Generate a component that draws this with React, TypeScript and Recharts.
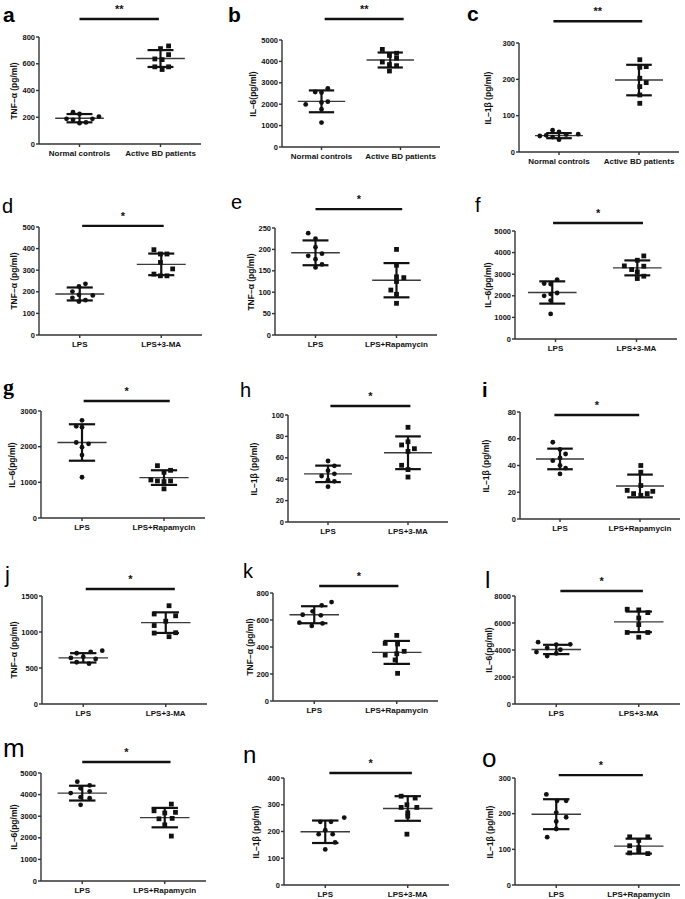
import React from "react";
import { ScatterChart, Scatter, XAxis, YAxis, ReferenceLine } from "recharts";

type Pt = [number, number];
type Stat = [number, number, number]; // x centre, mean, sd

const FONT = "'Liberation Sans', Arial, Helvetica, sans-serif";
const INK = "#111";

// category names
const normalGroups = ["Normal controls", "Active BD patients"];
const maGroups = ["LPS", "LPS+3-MA"];
const rapaGroups = ["LPS", "LPS+Rapamycin"];

// y tick labels
const ticks800 = [0, 200, 400, 600, 800];
const ticks5000 = [0, 1000, 2000, 3000, 4000, 5000];
const ticks300 = [0, 100, 200, 300];
const ticks500 = [0, 100, 200, 300, 400, 500];
const ticks250 = [0, 50, 100, 150, 200, 250];
const ticks3000 = [0, 1000, 2000, 3000];
const ticks100 = [0, 20, 40, 60, 80, 100];
const ticks80 = [0, 20, 40, 60, 80];
const ticks1500 = [0, 500, 1000, 1500];
const ticks8000 = [0, 2000, 4000, 6000, 8000];
const ticks400 = [0, 100, 200, 300, 400];

// points as [x (group + jitter), value]
const aCtrl: Pt[] = [[0.92, 238], [1, 225], [1.24, 205], [0.84, 188], [0.92, 181], [1.16, 188], [1, 156], [1.08, 161]];
const aBD: Pt[] = [[2.1, 733], [2, 713], [2.1, 668], [1.93, 636], [2.02, 631], [1.93, 577], [2.1, 577], [2.02, 557]];
const aStats: Stat[] = [[1, 193, 31], [2, 639, 63]];

const bCtrl: Pt[] = [[1.08, 2740], [0.92, 2570], [1, 2545], [1.08, 2120], [1, 2080], [0.8, 1990], [1, 1765], [1, 1140]];
const bBD: Pt[] = [[1.77, 4560], [1.95, 4380], [1.86, 4280], [1.95, 4150], [1.77, 3970], [1.86, 3850], [1.95, 3800], [1.86, 3550]];
const bStats: Stat[] = [[1, 2134, 510], [1.87, 4065, 350]];

const cCtrl: Pt[] = [[0.92, 60], [1, 55], [1.09, 48], [0.84, 46], [1.24, 49], [0.76, 44], [0.92, 41], [1, 34]];
const cBD: Pt[] = [[2.01, 254], [2.01, 233], [2.09, 235], [2.01, 203], [2.09, 191], [2.01, 180], [2.01, 157], [2.01, 134]];
const cStats: Stat[] = [[1, 45, 7], [2, 198, 42]];

const dLps: Pt[] = [[1.07, 237], [0.99, 225], [0.91, 201], [1.16, 183], [0.99, 186], [0.91, 172], [0.99, 155], [1.07, 161]];
const dMa: Pt[] = [[1.91, 395], [1.99, 375], [2.07, 375], [1.99, 336], [2.14, 306], [1.91, 282], [1.99, 274], [2.07, 274]];
const dStats: Stat[] = [[1, 190, 30], [2, 327, 50]];

const eLps: Pt[] = [[0.91, 238], [1, 225], [1, 205], [0.91, 185], [1.08, 190], [1, 177], [1, 158], [1.08, 165]];
const eRapa: Pt[] = [[2, 200], [2, 163], [2, 136], [2.09, 134], [1.93, 105], [2, 95], [2, 74], [2, 125]];
const eStats: Stat[] = [[1, 192, 29], [2, 128, 40]];

const fLps: Pt[] = [[1.02, 2750], [0.86, 2570], [0.94, 2545], [1.02, 2130], [0.94, 2080], [0.86, 2000], [0.94, 1780], [0.94, 1160]];
const fMa: Pt[] = [[2.09, 3846], [2.01, 3646], [1.85, 3385], [2.09, 3370], [1.94, 3215], [2.01, 3108], [2.09, 2908], [2.01, 2800]];
const fStats: Stat[] = [[0.96, 2154, 515], [2.01, 3292, 346]];

const gLps: Pt[] = [[1, 2739], [0.93, 2572], [1, 2544], [0.93, 2117], [1.08, 2080], [1, 1987], [1, 1764], [1, 1142]];
const gRapa: Pt[] = [[1.92, 1467], [2.08, 1337], [2, 1281], [1.84, 1067], [1.92, 1040], [2, 1021], [2.08, 1040], [2, 817]];
const gStats: Stat[] = [[1, 2117, 511], [2, 1133, 205]];

const hLps: Pt[] = [[1, 57], [1.08, 52.5], [1, 48], [1.08, 45], [0.92, 43], [1, 39], [1.08, 38], [1, 33]];
const hMa: Pt[] = [[2, 88.5], [2, 75], [1.92, 72], [2.08, 68.5], [2, 66], [1.92, 53], [2, 49], [2, 42]];
const hStats: Stat[] = [[1, 45, 7.7], [2, 64.7, 15.3]];

const iLps: Pt[] = [[0.91, 57.4], [1, 52], [1.07, 48.6], [0.91, 43.6], [1, 45.6], [1, 40], [1.07, 38], [1, 33.7]];
const iRapa: Pt[] = [[2.01, 40], [2.01, 35], [2.01, 25], [1.84, 21.4], [1.92, 19], [2.09, 19], [2.16, 20.7], [2.01, 17.7]];
const iStats: Stat[] = [[1, 44.9, 7.7], [2, 24.7, 8.5]];

const jLps: Pt[] = [[0.92, 705], [1.09, 725], [1.23, 740], [0.85, 640], [1, 655], [1.15, 625], [0.92, 580], [1.07, 560]];
const jMa: Pt[] = [[2.04, 1365], [1.86, 1250], [2.12, 1225], [2, 1150], [1.86, 1090], [2.12, 990], [1.86, 985], [2.04, 935]];
const jStats: Stat[] = [[1, 641, 65], [2, 1130, 143]];

const kLps: Pt[] = [[1.21, 733], [1.09, 709], [0.98, 664], [0.86, 639], [1.08, 635], [0.82, 580], [1.1, 575], [0.97, 556]];
const kRapa: Pt[] = [[2, 486], [1.86, 427], [2.01, 422], [2.09, 368], [2, 350], [1.86, 340], [1.98, 304], [2.01, 205]];
const kStats: Stat[] = [[1, 639, 63], [2, 360, 85]];

const lLps: Pt[] = [[0.78, 4580], [1, 4400], [1.17, 4420], [0.89, 4150], [1.05, 4020], [0.76, 3850], [1, 3750], [0.89, 3550]];
const lMa: Pt[] = [[1.86, 7020], [2, 6970], [2.11, 6770], [2, 6370], [2, 5880], [1.86, 5300], [2.11, 5300], [2, 4950]];
const lStats: Stat[] = [[1, 4040, 345], [2, 6084, 762]];

const mLps: Pt[] = [[0.94, 4600], [1.09, 4425], [0.98, 4290], [1.09, 4150], [0.86, 4070], [0.98, 3880], [1.09, 3830], [0.98, 3525]];
const mRapa: Pt[] = [[2.08, 3560], [1.87, 3250], [2, 3150], [2.13, 3180], [1.93, 2880], [2.09, 2900], [2, 2600], [2.08, 2080]];
const mStats: Stat[] = [[1, 4068, 342], [2, 2935, 450]];

const nLps: Pt[] = [[1.23, 252], [0.94, 236], [1.07, 236], [1, 205], [0.92, 190], [1.09, 190], [1.12, 159], [1, 133]];
const nMa: Pt[] = [[1.92, 332], [2.09, 325], [1.99, 300], [1.92, 290], [2.11, 290], [2, 270], [2, 257], [1.99, 190]];
const nStats: Stat[] = [[1, 199, 42], [2, 286, 46]];

const oLps: Pt[] = [[0.88, 254], [1.01, 236], [1.12, 236], [1, 203], [1.12, 190], [1, 178], [1, 157], [0.89, 134]];
const oRapa: Pt[] = [[1.89, 135], [2.11, 135], [2, 125], [1.89, 110], [2, 105], [1.89, 90], [2.11, 88], [2, 95]];
const oStats: Stat[] = [[1, 198.5, 42], [2, 109, 21]];

// significance brackets: [x1, x2, y]
const sigA = [1, 1.98, 935];
const sigB = [1.04, 2.04, 5980];
const sigC = [0.93, 2.04, 360];
const sigD = [1.03, 2.03, 505];
const sigE = [1.0, 2.07, 294];
const sigF = [0.97, 2.08, 5370];
const sigG = [1.02, 2.07, 3280];
const sigH = [1.03, 2.03, 108.4];
const sigI = [0.93, 1.99, 77.8];
const sigJ = [1.03, 2.11, 1597];
const sigK = [1.06, 2.02, 852];
const sigL = [1.05, 2.05, 8370];
const sigM = [1.0, 2.07, 5509];
const sigN = [1.05, 2.05, 418.7];
const sigO = [1.03, 2.05, 308];

type PanelDef = {
  letter: string;
  lx: number;
  lBase: number;
  lSize: number;
  lWeight?: number;
  lFamily?: string;
  axis: number;
  top: number;
  zero: number;
  w: number;
  ymax: number;
  yticks: number[];
  ylabel: string;
  labelOff: number;
  groups: string[];
  g1: Pt[];
  g2: Pt[];
  stats: Stat[];
  sig: number[];
  stars: string;
};

const panels: PanelDef[] = [
  { letter: "a", lx: 3, lBase: 22, lSize: 21, lWeight: 700, axis: 39, top: 37, zero: 144, w: 162, ymax: 800, yticks: ticks800, ylabel: "TNF–α (pg/ml)", labelOff: -25, groups: normalGroups, g1: aCtrl, g2: aBD, stats: aStats, sig: sigA, stars: "**" },
  { letter: "b", lx: 228, lBase: 22, lSize: 21, lWeight: 700, axis: 282, top: 40, zero: 147, w: 158, ymax: 5000, yticks: ticks5000, ylabel: "IL–6(pg/ml)", labelOff: -29, groups: normalGroups, g1: bCtrl, g2: bBD, stats: bStats, sig: sigB, stars: "**" },
  { letter: "c", lx: 467, lBase: 21, lSize: 21, lWeight: 700, axis: 519, top: 43, zero: 152, w: 160, ymax: 300, yticks: ticks300, ylabel: "IL–1β (pg/ml)", labelOff: -31, groups: normalGroups, g1: cCtrl, g2: cBD, stats: cStats, sig: sigC, stars: "**" },
  { letter: "d", lx: 2, lBase: 213, lSize: 20, axis: 39, top: 227, zero: 335, w: 163, ymax: 500, yticks: ticks500, ylabel: "TNF–α (pg/ml)", labelOff: -25, groups: maGroups, g1: dLps, g2: dMa, stats: dStats, sig: sigD, stars: "*" },
  { letter: "e", lx: 231, lBase: 209, lSize: 20, axis: 275, top: 228, zero: 335, w: 162, ymax: 250, yticks: ticks250, ylabel: "TNF–α (pg/ml)", labelOff: -24, groups: rapaGroups, g1: eLps, g2: eRapa, stats: eStats, sig: sigE, stars: "*" },
  { letter: "f", lx: 475, lBase: 212, lSize: 20, axis: 515, top: 231, zero: 339, w: 162, ymax: 5000, yticks: ticks5000, ylabel: "IL–6(pg/ml)", labelOff: -27, groups: maGroups, g1: fLps, g2: fMa, stats: fStats, sig: sigF, stars: "*" },
  { letter: "g", lx: 3, lBase: 395, lSize: 22, lWeight: 700, lFamily: "'Liberation Serif', 'Times New Roman', serif", axis: 41, top: 411, zero: 518, w: 164, ymax: 3000, yticks: ticks3000, ylabel: "IL–6(pg/ml)", labelOff: -29, groups: rapaGroups, g1: gLps, g2: gRapa, stats: gStats, sig: sigG, stars: "*" },
  { letter: "h", lx: 240, lBase: 397, lSize: 20, axis: 288, top: 415, zero: 522, w: 160, ymax: 100, yticks: ticks100, ylabel: "IL–1β (pg/ml)", labelOff: -34, groups: maGroups, g1: hLps, g2: hMa, stats: hStats, sig: sigH, stars: "*" },
  { letter: "i", lx: 482, lBase: 397, lSize: 20, lWeight: 700, axis: 520, top: 412, zero: 519, w: 160, ymax: 80, yticks: ticks80, ylabel: "IL–1β (pg/ml)", labelOff: -34, groups: rapaGroups, g1: iLps, g2: iRapa, stats: iStats, sig: sigI, stars: "*" },
  { letter: "j", lx: 5, lBase: 583, lSize: 22, axis: 42, top: 596, zero: 704, w: 165, ymax: 1500, yticks: ticks1500, ylabel: "TNF–α (pg/ml)", labelOff: -28, groups: maGroups, g1: jLps, g2: jMa, stats: jStats, sig: sigJ, stars: "*" },
  { letter: "k", lx: 243, lBase: 578, lSize: 20, axis: 273, top: 593, zero: 701, w: 165, ymax: 800, yticks: ticks800, ylabel: "TNF–α (pg/ml)", labelOff: -23, groups: rapaGroups, g1: kLps, g2: kRapa, stats: kStats, sig: sigK, stars: "*" },
  { letter: "l", lx: 485, lBase: 588, lSize: 24, axis: 515, top: 596, zero: 704, w: 165, ymax: 8000, yticks: ticks8000, ylabel: "IL–6(pg/ml)", labelOff: -26, groups: maGroups, g1: lLps, g2: lMa, stats: lStats, sig: sigL, stars: "*" },
  { letter: "m", lx: 3, lBase: 757, lSize: 26, axis: 41, top: 773, zero: 881, w: 165, ymax: 5000, yticks: ticks5000, ylabel: "IL–6(pg/ml)", labelOff: -27, groups: rapaGroups, g1: mLps, g2: mRapa, stats: mStats, sig: sigM, stars: "*" },
  { letter: "n", lx: 243, lBase: 763, lSize: 24, axis: 284, top: 778, zero: 885, w: 165, ymax: 400, yticks: ticks400, ylabel: "IL–1β (pg/ml)", labelOff: -28, groups: maGroups, g1: nLps, g2: nMa, stats: nStats, sig: sigN, stars: "*" },
  { letter: "o", lx: 482, lBase: 767, lSize: 26, axis: 515, top: 778, zero: 885, w: 165, ymax: 300, yticks: ticks300, ylabel: "IL–1β (pg/ml)", labelOff: -25, groups: rapaGroups, g1: oLps, g2: oRapa, stats: oStats, sig: sigO, stars: "*" },
];

function Dot(props: any) {
  return <circle cx={props.cx} cy={props.cy} r={2.4} fill={INK} />;
}

function Square(props: any) {
  return <rect x={props.cx - 2.4} y={props.cy - 2.4} width={4.8} height={4.8} fill={INK} />;
}

function summary(s: Stat, key: string) {
  const [x, m, sd] = s;
  return [
    <ReferenceLine key={key + "m"} segment={[{ x: x - 0.3, y: m }, { x: x + 0.3, y: m }]} stroke="#3a3a3a" strokeWidth={1.4} />,
    <ReferenceLine key={key + "v"} segment={[{ x, y: m - sd }, { x, y: m + sd }]} stroke={INK} strokeWidth={2.2} />,
    <ReferenceLine key={key + "t"} segment={[{ x: x - 0.16, y: m + sd }, { x: x + 0.16, y: m + sd }]} stroke={INK} strokeWidth={2.2} />,
    <ReferenceLine key={key + "b"} segment={[{ x: x - 0.16, y: m - sd }, { x: x + 0.16, y: m - sd }]} stroke={INK} strokeWidth={2.2} />,
  ];
}

function Panel({ p }: { p: PanelDef }) {
  const T = 40;
  const plotH = p.zero - p.top;
  const chartW = 40 + p.w + 14;
  const chartH = T + plotH + 24;
  const d1 = p.g1.map(([x, y]) => ({ x, y }));
  const d2 = p.g2.map(([x, y]) => ({ x, y }));
  const tickStyle = { fontSize: 7.5, fontWeight: 700, fill: INK, fontFamily: FONT };
  return (
    <>
      <div style={{ position: "absolute", left: p.axis - 40, top: p.top - T }}>
        <ScatterChart width={chartW} height={chartH} margin={{ top: T, right: 14, bottom: 0, left: 0 }}>
          <XAxis
            type="number"
            dataKey="x"
            domain={[0.5, 2.5]}
            ticks={[1, 2]}
            interval={0}
            allowDataOverflow
            height={24}
            tickFormatter={(v: number) => (v === 1 ? p.groups[0] : p.groups[1])}
            tick={{ ...tickStyle, fontSize: 8 }}
            tickSize={3}
            tickMargin={3}
            stroke="#333"
            strokeWidth={1.4}
          />
          <YAxis
            type="number"
            dataKey="y"
            domain={[0, p.ymax]}
            ticks={p.yticks}
            interval={0}
            allowDataOverflow
            width={40}
            tick={tickStyle}
            tickSize={3}
            tickMargin={1}
            stroke="#333"
            strokeWidth={1.4}
          />
          {summary(p.stats[0], "s1")}
          {summary(p.stats[1], "s2")}
          <Scatter data={d1} shape={Dot} isAnimationActive={false} />
          <Scatter data={d2} shape={Square} isAnimationActive={false} />
          <ReferenceLine
            segment={[{ x: p.sig[0], y: p.sig[2] }, { x: p.sig[1], y: p.sig[2] }]}
            stroke={INK}
            strokeWidth={2.4}
            ifOverflow="visible"
            label={{ value: p.stars, position: "top", offset: 6, fontSize: 11, fontWeight: 700, fill: INK, fontFamily: FONT }}
          />
        </ScatterChart>
      </div>
      <div
        style={{
          position: "absolute",
          left: p.axis + p.labelOff,
          top: (p.top + p.zero) / 2,
          transform: "translate(-50%, -50%) rotate(-90deg)",
          whiteSpace: "nowrap",
          fontFamily: FONT,
          fontWeight: 700,
          fontSize: 8.5,
          color: INK,
          lineHeight: 1,
        }}
      >
        {p.ylabel}
      </div>
      <div
        style={{
          position: "absolute",
          left: p.lx,
          top: p.lBase - 0.85 * p.lSize,
          fontFamily: p.lFamily || FONT,
          fontWeight: p.lWeight || 400,
          fontSize: p.lSize,
          lineHeight: 1,
          color: "#000",
        }}
      >
        {p.letter}
      </div>
    </>
  );
}

export default function App() {
  return (
    <div style={{ position: "absolute", left: 0, top: 0, width: 685, height: 899, background: "#fff", overflow: "hidden" }}>
      {panels.map((p) => (
        <Panel key={p.letter} p={p} />
      ))}
    </div>
  );
}
